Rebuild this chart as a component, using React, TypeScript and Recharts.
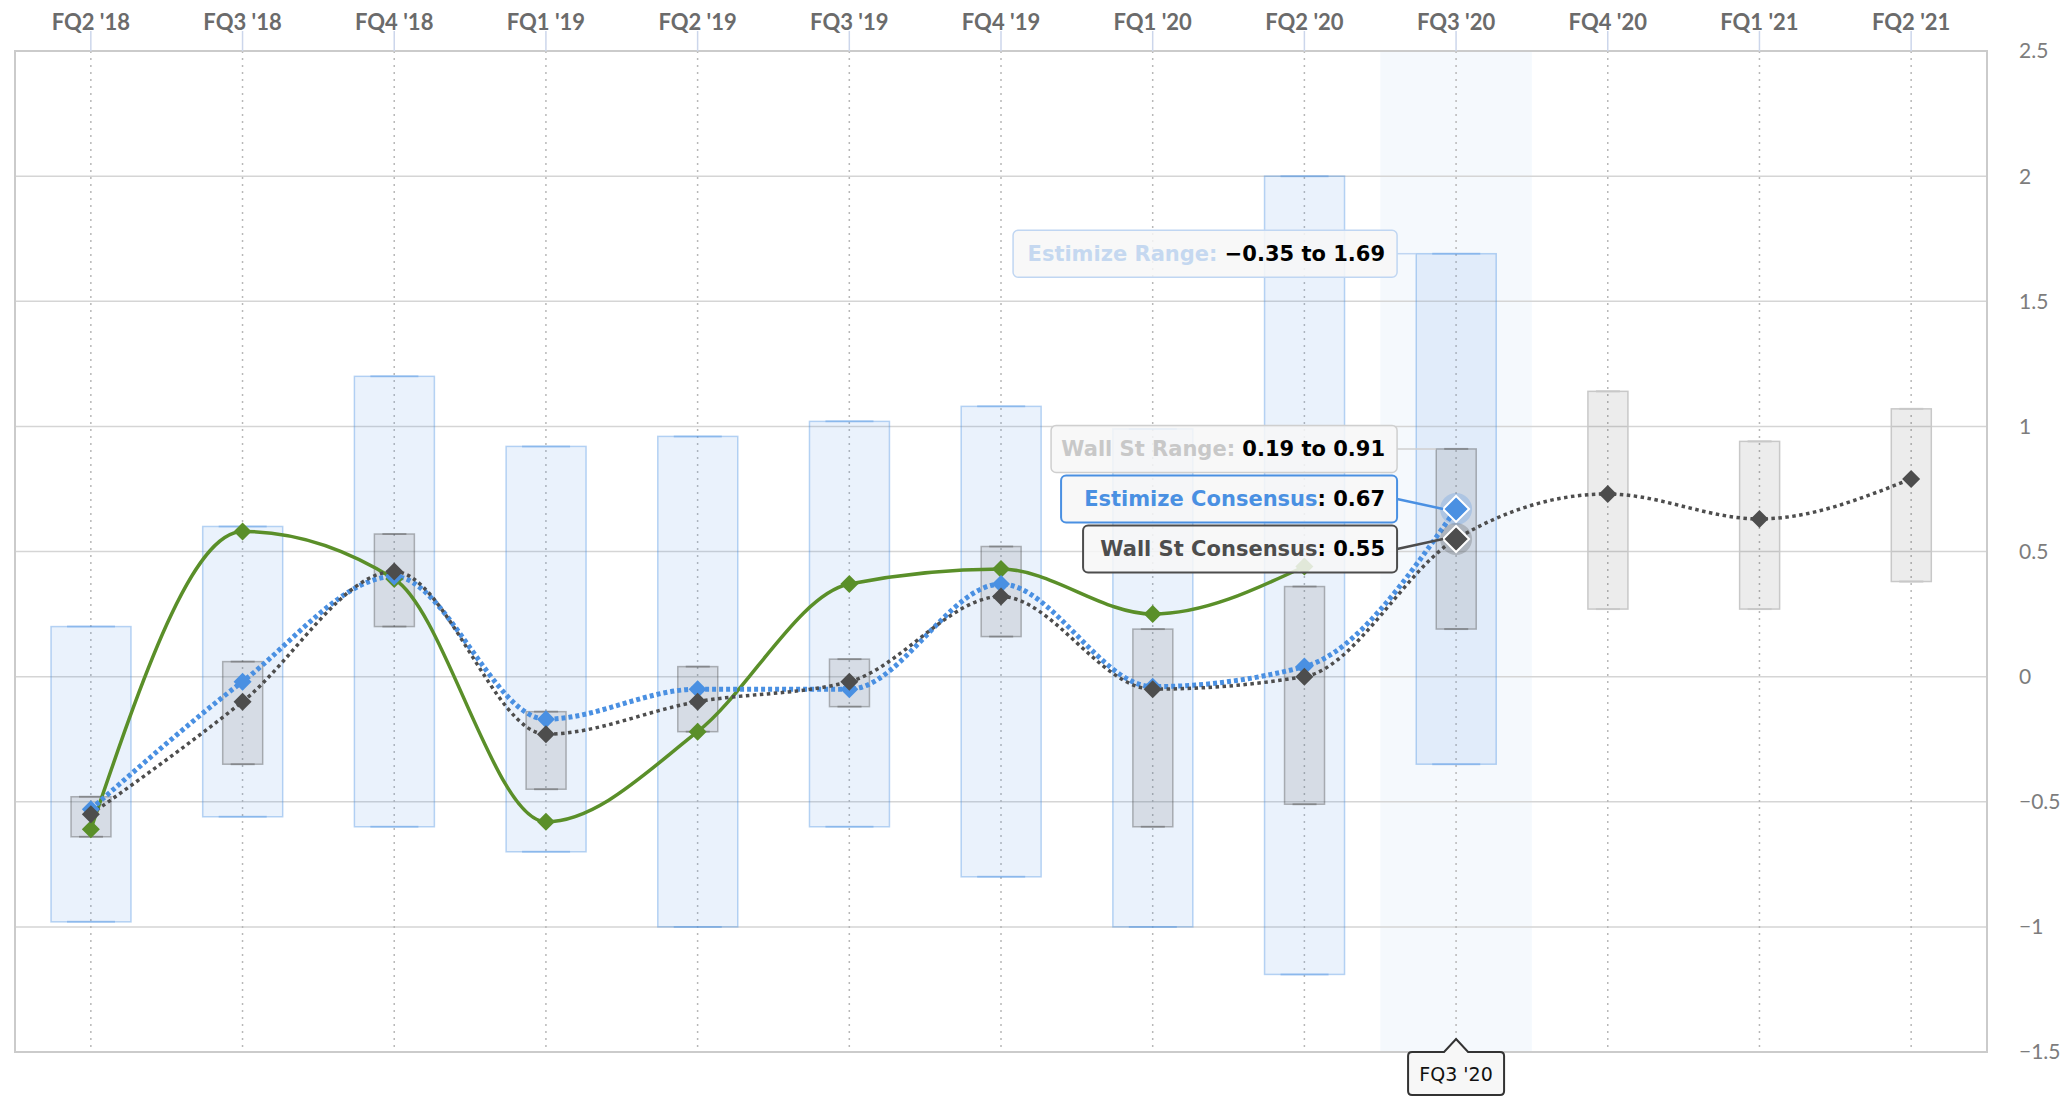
import React from 'react';
import {
  ComposedChart, Bar, Line, XAxis, YAxis, CartesianGrid,
  ReferenceArea, ReferenceDot,
} from 'recharts';

// ─── Data ───
const quarters = [
  "FQ2 '18", "FQ3 '18", "FQ4 '18", "FQ1 '19", "FQ2 '19", "FQ3 '19", "FQ4 '19",
  "FQ1 '20", "FQ2 '20", "FQ3 '20", "FQ4 '20", "FQ1 '21", "FQ2 '21",
];
const estimizeLow = [-0.98, -0.56, -0.6, -0.7, -1.0, -0.6, -0.8, -1.0, -1.19, -0.35, null, null, null];
const estimizeHigh = [0.2, 0.6, 1.2, 0.92, 0.96, 1.02, 1.08, 0.99, 2.0, 1.69, null, null, null];
const wallStLow = [-0.64, -0.35, 0.2, -0.45, -0.22, -0.12, 0.16, -0.6, -0.51, 0.19, 0.27, 0.27, 0.38];
const wallStHigh = [-0.48, 0.06, 0.57, -0.14, 0.04, 0.07, 0.52, 0.19, 0.36, 0.91, 1.14, 0.94, 1.07];
const actual = [-0.61, 0.58, 0.39, -0.58, -0.22, 0.37, 0.43, 0.25, 0.44, null, null, null, null];
const estimizeConsensus = [-0.53, -0.02, 0.4, -0.17, -0.05, -0.05, 0.37, -0.04, 0.04, 0.67, null, null, null];
const wallStConsensus = [-0.55, -0.1, 0.42, -0.23, -0.1, -0.02, 0.32, -0.05, 0.0, 0.55, 0.73, 0.63, 0.79];
const yTicks = [-1.5, -1, -0.5, 0, 0.5, 1, 1.5, 2, 2.5];

const ACTIVE = 9;          // hovered quarter (FQ3 '20)
const FIRST_FORECAST = 10; // quarters without reported results

// ─── Palette ───
const GREEN = '#5a8f29';
const BLUE = '#4a90e2';
const DARK = '#4d4d4d';
const TIP_FONT = 'DejaVu Sans, sans-serif';

const data = quarters.map((quarter, i) => ({
  quarter,
  estRange: estimizeLow[i] == null ? null : [estimizeLow[i], estimizeHigh[i]],
  wsRange: [wallStLow[i], wallStHigh[i]],
  actual: actual[i],
  estimize: estimizeConsensus[i],
  wallSt: wallStConsensus[i],
}));

const fmt = (v: number) => (v < 0 ? `\u2212${Math.abs(v).toFixed(2)}` : v.toFixed(2));
const fmtTick = (v: number) => (v < 0 ? `\u2212${Math.abs(v)}` : `${v}`);
const diamond = (cx: number, cy: number, r: number) =>
  `M${cx},${cy - r}L${cx + r},${cy}L${cx},${cy + r}L${cx - r},${cy}Z`;

// ─── Range box (box + whisker caps) ───
const makeRangeBox = (kind: 'est' | 'ws') => (props: any) => {
  const { x, y, width, height, index } = props;
  if (x == null || !width || height == null || isNaN(height)) return <g />;
  const top = Math.min(y, y + height);
  const h = Math.abs(height);
  const future = index >= FIRST_FORECAST;
  const fill = kind === 'est' ? 'rgba(74,144,226,0.115)' : future ? 'rgba(0,0,0,0.075)' : 'rgba(90,90,90,0.14)';
  const stroke = kind === 'est' ? 'rgba(74,144,226,0.38)' : future ? '#c8c8c8' : 'rgba(80,80,80,0.4)';
  const cx = x + width / 2;
  const cap = width * 0.3;
  return (
    <g>
      <rect x={x} y={top} width={width} height={h} fill={fill} stroke={stroke} strokeWidth={1.5} />
      <line x1={cx - cap} x2={cx + cap} y1={top} y2={top} stroke={stroke} strokeWidth={2} />
      <line x1={cx - cap} x2={cx + cap} y1={top + h} y2={top + h} stroke={stroke} strokeWidth={2} />
    </g>
  );
};

// ─── Diamond markers, hovered one enlarged with halo ───
const makeDot = (color: string) => (props: any) => {
  const { cx, cy, index, value } = props;
  if (value == null || cx == null || cy == null) return <g key={`n-${index}`} />;
  if (index === ACTIVE) {
    return (
      <g key={`a-${index}`}>
        <circle cx={cx} cy={cy} r={16} fill={color} fillOpacity={0.25} />
        <path d={diamond(cx, cy, 13)} fill={color} stroke="#fff" strokeWidth={2} />
      </g>
    );
  }
  return <path key={`d-${index}`} d={diamond(cx, cy, 9)} fill={color} />;
};

// ─── Split tooltip label ───
type TipOpts = {
  label: string; value: string; labelColor: string; border: string;
  boxWidth: number; dy: number; targetDx: number; lineWidth: number; borderWidth: number;
};
const makeTip = (o: TipOpts) => (props: any) => {
  const { cx, cy } = props;
  if (cx == null || cy == null) return <g />;
  const right = cx - 59;
  const mid = cy + o.dy;
  const h = 47;
  return (
    <g>
      <line x1={right} y1={mid} x2={cx + o.targetDx} y2={cy} stroke={o.border} strokeWidth={o.lineWidth} />
      <rect x={right - o.boxWidth} y={mid - h / 2} width={o.boxWidth} height={h} rx={5}
        fill="rgba(247,247,247,0.86)" stroke={o.border} strokeWidth={o.borderWidth} />
      <text x={right - 12} y={mid + 7.5} textAnchor="end" fontFamily={TIP_FONT} fontWeight={700} fontSize={21}>
        <tspan fill={o.labelColor}>{o.label}</tspan>
        <tspan fill="#000">{o.value}</tspan>
      </text>
    </g>
  );
};

const AxisTip = (props: any) => {
  const { cx, cy } = props;
  if (cx == null || cy == null) return <g />;
  const w = 48, h = 43, r = 4;
  const d = `M${cx - w + r},${cy} L${cx - 12},${cy} L${cx},${cy - 13} L${cx + 12},${cy} L${cx + w - r},${cy}
    Q${cx + w},${cy} ${cx + w},${cy + r} L${cx + w},${cy + h - r} Q${cx + w},${cy + h} ${cx + w - r},${cy + h}
    L${cx - w + r},${cy + h} Q${cx - w},${cy + h} ${cx - w},${cy + h - r} L${cx - w},${cy + r}
    Q${cx - w},${cy} ${cx - w + r},${cy} Z`;
  return (
    <g>
      <path d={d} fill="#f7f7f7" stroke="#333" strokeWidth={2} />
      <text x={cx} y={cy + 29} textAnchor="middle" fontFamily={TIP_FONT} fontSize={19} fill="#111">
        {quarters[ACTIVE]}
      </text>
    </g>
  );
};

export default function App() {
  const q = quarters[ACTIVE];
  return (
    <div style={{ position: 'absolute', left: 0, top: 0, width: 2062, height: 1104, background: '#fff' }}>
      <ComposedChart width={2062} height={1104} data={data} margin={{ top: 0, right: 0, bottom: 52, left: 15 }}>
        <XAxis
          xAxisId="main" dataKey="quarter" orientation="top" height={51} interval={0}
          axisLine={false} tickSize={20} tickMargin={1}
          tickLine={{ stroke: '#ccd6eb', strokeWidth: 1.5 }}
          tick={{ fill: '#6b6b6b', fontSize: 22, fontWeight: 700, fontFamily: 'Lato, sans-serif' }}
        />
        <XAxis xAxisId="ws" dataKey="quarter" hide />
        <YAxis
          orientation="right" width={75} domain={[-1.5, 2.5]} ticks={yTicks} interval={0}
          axisLine={false} tickLine={false} tickSize={0} tickMargin={32} tickFormatter={fmtTick}
          tick={{ fill: '#7d7d7d', fontSize: 21, fontFamily: 'Lato, sans-serif' }}
        />
        <ReferenceArea
          xAxisId="main" x1={q} x2={q} y1={-1.5} y2={2.5}
          fill="rgba(74,144,226,0.11)" stroke="none" zIndex={-150}
        />
        <CartesianGrid xAxisId="main" vertical={false} stroke="#d5d5d5" strokeWidth={1.5} />
        <CartesianGrid xAxisId="main" horizontal={false} stroke="#b8b8b8" strokeWidth={1.5} strokeDasharray="2 5" />

        <Bar xAxisId="main" dataKey="estRange" barSize={80} isAnimationActive={false} shape={makeRangeBox('est')} />
        <Bar xAxisId="ws" dataKey="wsRange" barSize={40} isAnimationActive={false} shape={makeRangeBox('ws')} />

        <Line xAxisId="main" type="monotone" dataKey="actual" stroke={GREEN} strokeWidth={3.5}
          dot={makeDot(GREEN)} activeDot={false} isAnimationActive={false} />
        <Line xAxisId="main" type="monotone" dataKey="estimize" stroke={BLUE} strokeWidth={5}
          strokeDasharray="4 3" dot={makeDot(BLUE)} activeDot={false} isAnimationActive={false} />
        <Line xAxisId="main" type="monotone" dataKey="wallSt" stroke={DARK} strokeWidth={3.5}
          strokeDasharray="3.5 3.5" dot={makeDot(DARK)} activeDot={false} isAnimationActive={false} />

        <ReferenceArea
          xAxisId="main" x1={quarters[0]} x2={quarters[quarters.length - 1]} y1={-1.5} y2={2.5}
          fill="none" stroke="#cbcbcb" strokeWidth={2} zIndex={450}
        />

        <ReferenceDot xAxisId="main" x={q} y={estimizeHigh[ACTIVE] as number} r={0} ifOverflow="visible" zIndex={2500}
          shape={makeTip({
            label: 'Estimize Range:', value: ` ${fmt(estimizeLow[ACTIVE] as number)} to ${fmt(estimizeHigh[ACTIVE] as number)}`,
            labelColor: '#c5d8f0', border: '#c0d6f2', boxWidth: 384, dy: 0, targetDx: -40, lineWidth: 1.5, borderWidth: 1.5,
          })}
        />
        <ReferenceDot xAxisId="main" x={q} y={wallStHigh[ACTIVE]} r={0} ifOverflow="visible" zIndex={2500}
          shape={makeTip({
            label: 'Wall St Range:', value: ` ${fmt(wallStLow[ACTIVE])} to ${fmt(wallStHigh[ACTIVE])}`,
            labelColor: '#c8c8c8', border: '#cfcfcf', boxWidth: 346, dy: 0, targetDx: -20, lineWidth: 1.5, borderWidth: 1.5,
          })}
        />
        <ReferenceDot xAxisId="main" x={q} y={estimizeConsensus[ACTIVE] as number} r={0} ifOverflow="visible" zIndex={2500}
          shape={makeTip({
            label: 'Estimize Consensus', value: `: ${fmt(estimizeConsensus[ACTIVE] as number)}`,
            labelColor: BLUE, border: BLUE, boxWidth: 336, dy: -10, targetDx: -13, lineWidth: 2.5, borderWidth: 2,
          })}
        />
        <ReferenceDot xAxisId="main" x={q} y={wallStConsensus[ACTIVE]} r={0} ifOverflow="visible" zIndex={2500}
          shape={makeTip({
            label: 'Wall St Consensus', value: `: ${fmt(wallStConsensus[ACTIVE])}`,
            labelColor: DARK, border: DARK, boxWidth: 314, dy: 10, targetDx: -13, lineWidth: 2.5, borderWidth: 2,
          })}
        />
        <ReferenceDot xAxisId="main" x={q} y={-1.5} r={0} ifOverflow="visible" zIndex={2500} shape={AxisTip} />
      </ComposedChart>
    </div>
  );
}
